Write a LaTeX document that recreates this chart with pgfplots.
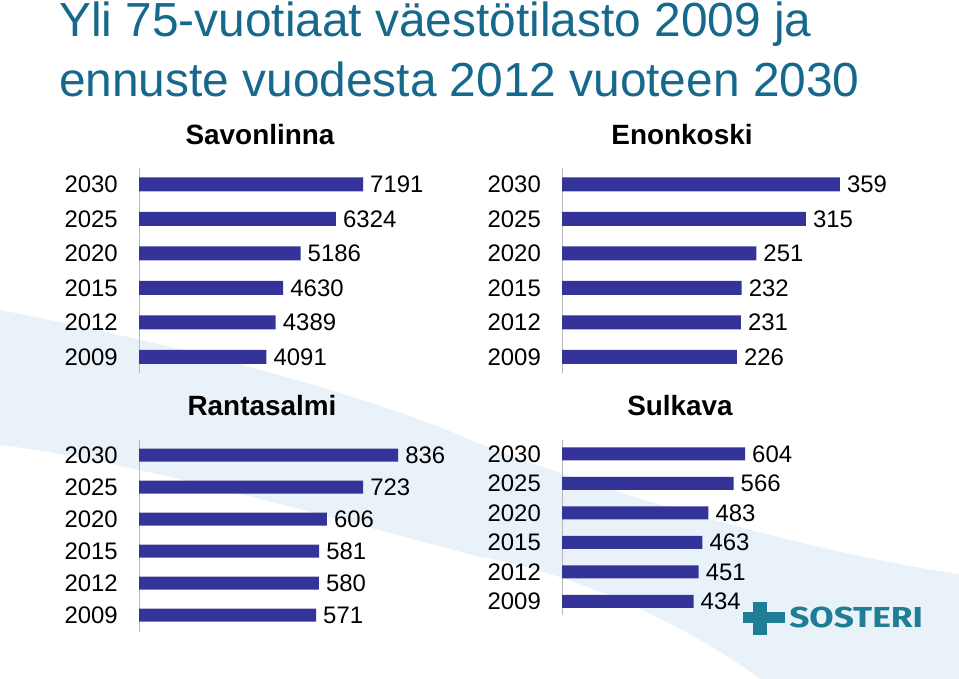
\documentclass[border=0pt]{standalone}
\usepackage{pgfplots}
\pgfplotsset{compat=1.18}
\usepackage{fontspec}
\setmainfont{Liberation Sans}
\newfontfamily\logofont{Fira Sans}
\definecolor{barblue}{RGB}{51,51,153}
\definecolor{titleteal}{RGB}{22,105,140}
\definecolor{logoblue}{RGB}{31,125,150}
\definecolor{swoosh}{RGB}{234,242,249}
\newcommand{\lblfont}{\fontsize{24}{27}\selectfont}
\pgfplotsset{
  panel/.style={
    xbar, scale only axis, anchor=south west,
    xmin=0,
    axis y line=left, axis x line=none,
    axis line style={-, draw=gray!55, line width=0.8pt},
    ytick={0,1,2,3,4,5},
    yticklabels={2009,2012,2015,2020,2025,2030},
    major tick length=0pt,
    yticklabel style={font=\lblfont, inner sep=0pt, xshift=-21bp},
    nodes near coords,
    nodes near coords style={font=\lblfont, anchor=west, inner sep=0pt, xshift=7bp},
    /pgf/number format/assume math mode=true,
    /pgf/number format/1000 sep={},
    clip=false,
  }
}
\begin{document}
\begin{tikzpicture}[x=1bp,y=1bp]
\path[use as bounding box, fill=white] (0,0) rectangle (959,679);
% background swoosh
\fill[swoosh] (0,369) .. controls (200,330) and (380,280) .. (480,235)
  .. controls (650,170) and (850,120) .. (959,105) -- (959,0) -- (760,0)
  .. controls (680,60) and (560,110) .. (480,122)
  .. controls (300,170) and (120,220) .. (0,234) -- cycle;
% titles
\node[anchor=base west, inner sep=0pt, text=titleteal, font=\fontsize{48}{54}\selectfont] at (59,642) {Yli 75-vuotiaat väestötilasto 2009 ja};
\node[anchor=base west, inner sep=0pt, text=titleteal, font=\fontsize{48}{54}\selectfont] at (59,582) {ennuste vuodesta 2012 vuoteen 2030};
\node[anchor=base, inner sep=0pt, font=\fontsize{28}{32}\selectfont\bfseries] at (260,534) {Savonlinna};
\node[anchor=base, inner sep=0pt, font=\fontsize{28}{32}\selectfont\bfseries] at (682,534) {Enonkoski};
\node[anchor=base, inner sep=0pt, font=\fontsize{28}{32}\selectfont\bfseries] at (262,263) {Rantasalmi};
\node[anchor=base, inner sep=0pt, font=\fontsize{28}{32}\selectfont\bfseries] at (680,263) {Sulkava};
% Savonlinna
\begin{axis}[panel, at={(139bp,306bp)}, width=311.5bp, height=205bp,
  xmax=10000, ymin=-0.464, ymax=5.478, bar width=14bp]
\addplot[fill=barblue, draw=none] coordinates {(4091,0) (4389,1) (4630,2) (5186,3) (6324,4) (7191,5)};
\end{axis}
% Enonkoski
\begin{axis}[panel, at={(562bp,306bp)}, width=348.3bp, height=205bp,
  xmax=450, ymin=-0.464, ymax=5.478, bar width=14bp]
\addplot[fill=barblue, draw=none] coordinates {(226,0) (231,1) (232,2) (251,3) (315,4) (359,5)};
\end{axis}
% Rantasalmi
\begin{axis}[panel, at={(139bp,47.3bp)}, width=310bp, height=191.7bp,
  xmax=1000, ymin=-0.52, ymax=5.47, bar width=13bp]
\addplot[fill=barblue, draw=none] coordinates {(571,0) (580,1) (581,2) (606,3) (723,4) (836,5)};
\end{axis}
% Sulkava
\begin{axis}[panel, at={(562bp,64bp)}, width=378.75bp, height=175bp,
  xmax=1250, ymin=-0.458, ymax=5.47, bar width=13bp]
\addplot[fill=barblue, draw=none] coordinates {(434,0) (451,1) (463,2) (483,3) (566,4) (604,5)};
\end{axis}
% logo
\fill[logoblue] (753,44) rectangle (767,77);
\fill[logoblue] (743,56) rectangle (785,67);
\node[anchor=base west, inner sep=0pt, text=logoblue, xscale=1.22, font=\logofont\bfseries\fontsize{29}{32}\selectfont] at (789,51) {SOSTERI};
\end{tikzpicture}
\end{document}
